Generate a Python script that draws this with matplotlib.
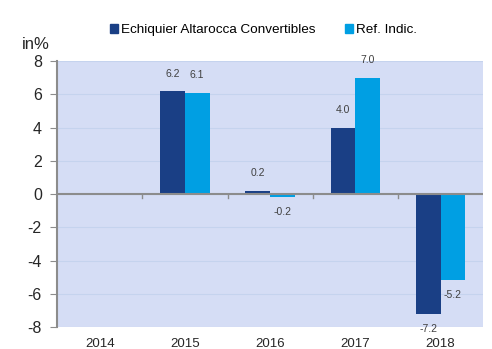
import numpy as np
import matplotlib
matplotlib.use('Agg')
import matplotlib.pyplot as plt
from matplotlib.patches import Patch

plt.rcParams['font.family'] = ['Liberation Sans', 'DejaVu Sans']
plt.rcParams['axes.unicode_minus'] = False

years = ['2014', '2015', '2016', '2017', '2018']
fund = [np.nan, 6.2, 0.2, 4.0, -7.2]
index = [np.nan, 6.1, -0.2, 7.0, -5.2]
series_names = ['Echiquier Altarocca Convertibles', 'Ref. Indic.']
colors = ['#1A3F85', '#009FE3']

fig = plt.figure(figsize=(4.92, 3.49), dpi=100)
ax = fig.add_axes([0.116, 0.063, 0.866, 0.762])
ax.set_facecolor('#D5DDF5')

x = np.arange(len(years))
w = 0.29
for vals, off, c in [(fund, -w / 2, colors[0]), (index, w / 2, colors[1])]:
    ax.bar(x + off, vals, w, color=c, zorder=3)
    for xi, v in zip(x, vals):
        if np.isnan(v):
            continue
        if v >= 0:
            ax.text(xi + off, v + 0.75, f'{v:.1f}', ha='center', va='bottom',
                    fontsize=7.5, color='#404040')
        else:
            ax.text(xi + off, v - 0.6, f'{v:.1f}', ha='center', va='top',
                    fontsize=7.5, color='#404040', clip_on=False)

ax.set_xlim(-0.5, len(years) - 0.5)
ax.set_ylim(-8, 8)
ax.set_yticks(np.arange(-8, 9, 2))
ax.yaxis.grid(True, color='#C5D3EE', linewidth=0.8, zorder=0)
ax.axhline(0, color='#8C8C8C', linewidth=1.5, zorder=4)

for s in ['top', 'right', 'bottom']:
    ax.spines[s].set_visible(False)
ax.spines['left'].set_color('#8C8C8C')
ax.spines['left'].set_linewidth(1.5)

ax.tick_params(axis='y', length=5, color='#8C8C8C', labelsize=11.5,
               labelcolor='#262626', pad=6)
ax.set_xticks(x)
ax.set_xticklabels(years)
ax.tick_params(axis='x', length=0, labelsize=9.5, labelcolor='#262626', pad=8)

# category separators sitting on the zero line
for xb in x[:-1] + 0.5:
    ax.plot([xb, xb], [0, -0.25], color='#8C8C8C', linewidth=1, zorder=4)

fig.text(0.045, 0.872, 'in%', fontsize=12, color='#262626', ha='left', va='center')

handles = [Patch(color=c, label=n) for c, n in zip(colors, series_names)]
fig.legend(handles=handles, loc='center', bbox_to_anchor=(0.535, 0.913), ncol=2,
           frameon=False, fontsize=9.7, handlelength=0.6, handleheight=0.6,
           handletextpad=0.2, columnspacing=2.2)

fig.savefig('out.png', dpi=100)
